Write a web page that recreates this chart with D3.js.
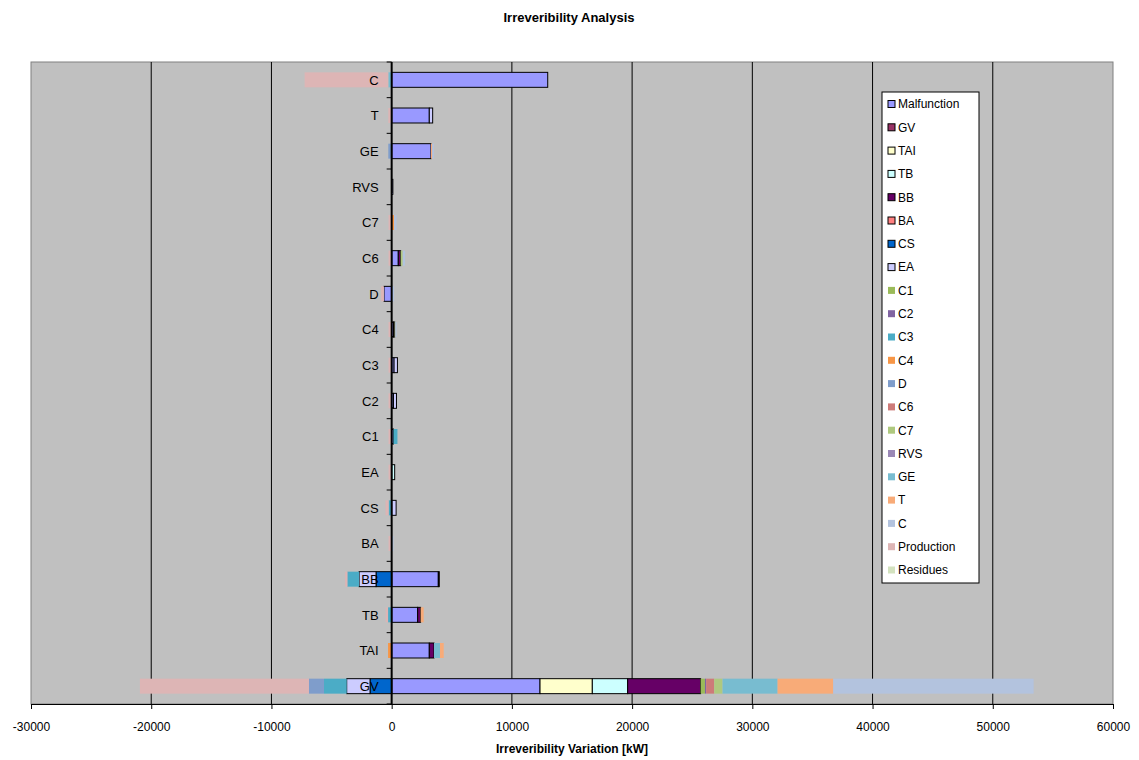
<!DOCTYPE html>
<html>
<head>
<meta charset="utf-8">
<script src="https://cdn.jsdelivr.net/npm/d3@7"></script>
<style>
  body { margin:0; background:#fff; }
  text { font-family: Arial, "Liberation Sans", sans-serif; }
</style>
</head>
<body>
<script>
// categories, bottom to top as in the source sheet
const categories = ["GV","TAI","TB","BB","BA","CS","EA","C1","C2","C3","C4","D","C6","C7","RVS","GE","T","C"];
const seriesNames = ["Malfunction","GV","TAI","TB","BB","BA","CS","EA","C1","C2","C3","C4","D","C6","C7","RVS","GE","T","C","Production","Residues"];
const xTicks = [-30000,-20000,-10000,0,10000,20000,30000,40000,50000,60000];

// one array per series, same order as categories
const malfunction = [12340,3130,2160,3880,0,0,0,150,150,200,150,-640,550,0,100,3270,3130,12980];
const sGV   = [0,0,0,80,0,0,0,0,0,0,0,0,0,0,0,0,0,0];
const sTAI  = [4350,0,0,0,0,0,0,0,0,0,0,0,0,0,0,0,0,0];
const sTB   = [2940,0,0,0,0,0,250,0,0,0,0,0,0,0,0,0,0,0];
const sBB   = [6070,390,250,0,0,0,0,0,0,0,100,0,200,0,0,0,0,0];
const sBA   = [0,0,0,0,0,0,0,0,0,0,0,0,0,0,0,0,0,0];
const sCS   = [-1800,0,0,-1300,0,0,0,0,0,0,0,0,0,0,0,0,0,0];
const sEA   = [-1940,0,0,-1410,0,370,0,0,250,280,0,0,0,0,0,0,280,0];
const sC1   = [360,0,0,0,0,0,0,0,0,0,0,0,0,0,0,0,0,0];
const sC2   = [100,0,0,0,0,0,0,0,0,0,0,0,0,0,0,0,0,0];
const sC3   = [-1890,0,-300,-975,0,-250,0,330,0,0,0,0,0,0,0,0,0,0];
const sC4   = [0,-300,0,0,0,0,0,0,0,0,0,0,0,200,0,0,0,0];
const sD    = [-1250,0,0,0,0,0,0,0,0,0,0,0,0,0,0,-280,0,0];
const sC6   = [670,0,0,0,0,0,0,0,0,0,0,0,0,0,0,0,0,0];
const sC7   = [690,0,0,0,0,0,0,0,0,0,60,0,170,0,0,0,0,0];
const sRVS  = [0,0,0,0,0,0,0,0,0,0,0,0,0,0,0,0,0,0];
const sGE   = [4580,500,0,0,0,0,0,0,0,0,0,0,0,0,0,0,0,-280];
const sT    = [4630,310,250,0,0,0,0,0,0,0,0,0,0,0,0,100,0,0];
const sC    = [16670,0,0,0,150,0,0,0,0,0,100,200,190,200,0,150,0,0];
const production = [-14060,0,-200,-190,-260,-260,-260,-260,-260,-260,-260,-240,-260,-260,0,0,-280,-6960];
const residues = [0,0,0,0,0,0,0,0,0,0,0,0,0,0,0,0,0,0];

const seriesValues = [malfunction,sGV,sTAI,sTB,sBB,sBA,sCS,sEA,sC1,sC2,sC3,sC4,sD,sC6,sC7,sRVS,sGE,sT,sC,production,residues];
const colors = ["#9999FF","#993366","#FFFFCC","#CCFFFF","#660066","#FF8080","#0066CC","#CCCCFF",
                "#9BBB59","#8064A2","#4BACC6","#F79646","#7F9DCB","#CD7B79","#AFC97F","#9A88B6",
                "#78BCD0","#F8AB78","#B3C3DE","#DDB5B5","#D3E2BF"];
const bordered = 8; // first 8 series drawn with black outline

const W = 1139, H = 760;
const plot = {left:31, right:1113, top:62, bottom:704};

const svg = d3.select("body").append("svg")
    .attr("width", W).attr("height", H);

const x = d3.scaleLinear().domain([-30000,60000]).range([plot.left, plot.right]);
const y = d3.scaleBand().domain(categories.slice().reverse())
    .range([plot.top, plot.bottom]).paddingInner(0.58).paddingOuter(0.29);

// title
svg.append("text").attr("x", 569).attr("y", 22).attr("text-anchor","middle")
   .style("font-size","13px").style("font-weight","bold").text("Irreveribility Analysis");

// plot area
svg.append("rect").attr("x", plot.left).attr("y", plot.top)
   .attr("width", plot.right-plot.left).attr("height", plot.bottom-plot.top)
   .attr("fill","#C0C0C0").attr("stroke","#808080");

// gridlines
svg.append("g").selectAll("line")
   .data(xTicks.filter(d => d!==0 && d!==-30000 && d!==60000))
   .enter().append("line")
   .attr("x1", d => x(d)).attr("x2", d => x(d))
   .attr("y1", plot.top).attr("y2", plot.bottom)
   .attr("stroke","#000").attr("stroke-width",1);

// stacked data
const rows = categories.map((c,i) => {
  const r = {cat:c};
  seriesNames.forEach((s,j) => r[s] = seriesValues[j][i]);
  return r;
});
const stacked = d3.stack().keys(seriesNames).offset(d3.stackOffsetDiverging)(rows);

const layers = svg.append("g").selectAll("g")
   .data(stacked).enter().append("g")
   .attr("fill", (d,i) => colors[i])
   .attr("stroke", (d,i) => i < bordered ? "#000" : "none")
   .attr("stroke-width", 1);

layers.selectAll("rect")
   .data(d => d.filter(p => p[1]-p[0] !== 0))
   .enter().append("rect")
   .attr("x", d => x(Math.min(d[0],d[1])))
   .attr("y", d => y(d.data.cat))
   .attr("width", d => Math.abs(x(d[1]) - x(d[0])))
   .attr("height", y.bandwidth());

// x axis (plain hyphen minus like the original)
const xAxis = d3.axisBottom(x).tickValues(xTicks).tickSize(5).tickFormat(d => String(d));
const gx = svg.append("g").attr("transform","translate(0,"+plot.bottom+")").call(xAxis);
gx.select(".domain").attr("stroke","#000");
gx.selectAll("text").style("font-size","12px").attr("fill","#000").attr("dy","1.6em");

svg.append("text").attr("x", 572).attr("y", 753).attr("text-anchor","middle")
   .style("font-size","12px").style("font-weight","bold").text("Irreveribility Variation [kW]");

// category axis at zero
const zeroX = x(0);
svg.append("line").attr("x1", zeroX).attr("x2", zeroX)
   .attr("y1", plot.top).attr("y2", plot.bottom)
   .attr("stroke","#000").attr("stroke-width",2);
const step = y.step();
svg.append("g").selectAll("line")
   .data(d3.range(categories.length+1))
   .enter().append("line")
   .attr("x1", zeroX-5).attr("x2", zeroX)
   .attr("y1", i => plot.top + i*step).attr("y2", i => plot.top + i*step)
   .attr("stroke","#000");
svg.append("g").selectAll("text")
   .data(categories).enter().append("text")
   .attr("x", zeroX-13)
   .attr("y", d => y(d) + y.bandwidth()/2)
   .attr("dy","0.36em").attr("text-anchor","end")
   .style("font-size","13px").text(d => d);

// legend
const lg = svg.append("g").attr("transform","translate(882,92)");
lg.append("rect").attr("width",97).attr("height",491).attr("fill","#fff").attr("stroke","#000");
const items = lg.selectAll("g.item").data(seriesNames).enter().append("g")
   .attr("class","item")
   .attr("transform",(d,i) => "translate(0,"+(12 + i*23.3)+")");
items.append("rect").attr("x",6).attr("y",-3.5).attr("width",7).attr("height",7)
   .attr("fill",(d,i) => colors[i])
   .attr("stroke",(d,i) => i < bordered ? "#000" : "none");
items.append("text").attr("x",16).attr("dy","0.36em")
   .style("font-size","12px").text(d => d);
</script>
</body>
</html>
